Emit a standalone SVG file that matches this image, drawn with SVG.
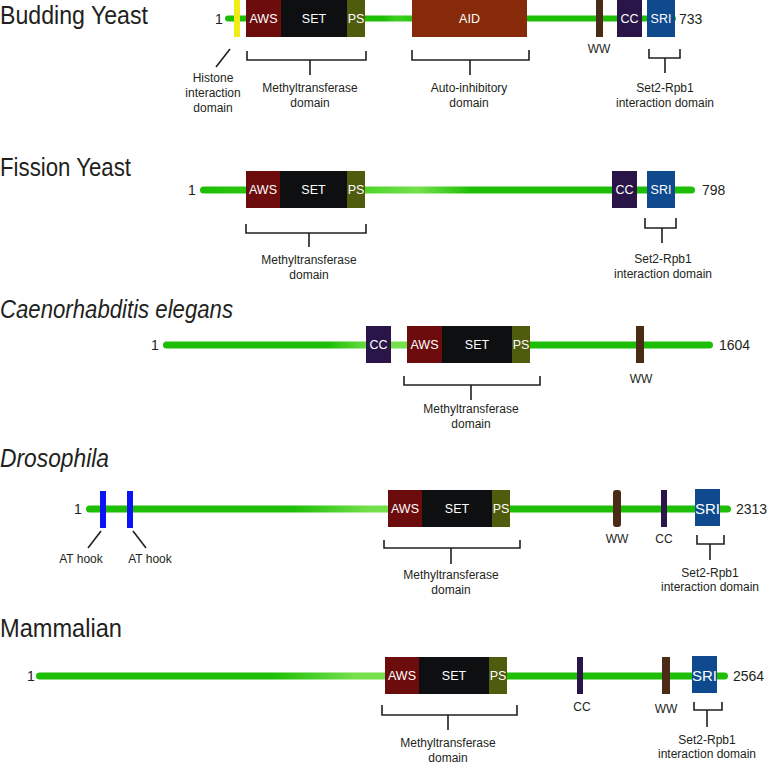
<svg xmlns="http://www.w3.org/2000/svg" width="767" height="766" viewBox="0 0 767 766">
<defs>
<style>
.title{font-family:"Liberation Sans",Arial,sans-serif;font-size:25px;fill:#231f20}
.it{font-style:italic}
.lbl{font-family:"Liberation Sans",Arial,sans-serif;font-size:12px;fill:#231f20;text-anchor:middle}
.num{font-family:"Liberation Sans",Arial,sans-serif;font-size:14px;fill:#231f20}
.bx{font-family:"Liberation Sans",Arial,sans-serif;font-size:12.5px;fill:#ffffff;text-anchor:middle}
.br{fill:none;stroke:#231f20;stroke-width:1.6}
.aws{fill:#6c0c0c}
.set{fill:#0d0f10}
.ps{fill:#4f5b0d}
.cc{fill:#2a1548}
.sri{fill:#0f4a8e}
.ww{fill:#4a2b15}
.aid{fill:#862a0a}
</style>
<linearGradient id="g1" gradientUnits="userSpaceOnUse" x1="225" y1="0" x2="676" y2="0">
<stop offset="0" stop-color="#1dbe05"/>
<stop offset="0.35" stop-color="#1dbe05"/>
<stop offset="0.38" stop-color="#3cd020"/>
<stop offset="0.45" stop-color="#1dbe05"/>
<stop offset="1" stop-color="#1dbe05"/>
</linearGradient>
<linearGradient id="g2" gradientUnits="userSpaceOnUse" x1="200" y1="0" x2="695" y2="0">
<stop offset="0" stop-color="#1dbe05"/>
<stop offset="0.33" stop-color="#4ed42c"/>
<stop offset="0.44" stop-color="#74e04c"/>
<stop offset="0.55" stop-color="#1dbe05"/>
<stop offset="1" stop-color="#1dbe05"/>
</linearGradient>
<linearGradient id="g3" gradientUnits="userSpaceOnUse" x1="163" y1="0" x2="713" y2="0">
<stop offset="0" stop-color="#1dbe05"/>
<stop offset="0.3" stop-color="#1dbe05"/>
<stop offset="0.38" stop-color="#74e04c"/>
<stop offset="0.45" stop-color="#74e04c"/>
<stop offset="0.6" stop-color="#1dbe05"/>
<stop offset="1" stop-color="#1dbe05"/>
</linearGradient>
<linearGradient id="g4" gradientUnits="userSpaceOnUse" x1="86" y1="0" x2="731" y2="0">
<stop offset="0" stop-color="#1dbe05"/>
<stop offset="0.32" stop-color="#1dbe05"/>
<stop offset="0.44" stop-color="#74e04c"/>
<stop offset="0.47" stop-color="#74e04c"/>
<stop offset="0.66" stop-color="#1dbe05"/>
<stop offset="1" stop-color="#1dbe05"/>
</linearGradient>
<linearGradient id="g5" gradientUnits="userSpaceOnUse" x1="36" y1="0" x2="728" y2="0">
<stop offset="0" stop-color="#1dbe05"/>
<stop offset="0.34" stop-color="#1dbe05"/>
<stop offset="0.46" stop-color="#74e04c"/>
<stop offset="0.52" stop-color="#74e04c"/>
<stop offset="0.66" stop-color="#1dbe05"/>
<stop offset="1" stop-color="#1dbe05"/>
</linearGradient>
</defs>
<rect width="767" height="766" fill="#ffffff"/>

<!-- Row 1: Budding Yeast -->
<g id="budding-yeast">
<text class="title" x="0" y="24" textLength="148" lengthAdjust="spacingAndGlyphs">Budding Yeast</text>
<rect x="225" y="15.5" width="451" height="6" rx="3" fill="url(#g1)"/>
<text class="num" x="215" y="24">1</text>
<text class="num" x="679" y="24">733</text>
<rect x="234" y="0" width="6" height="37" fill="#f2ec16"/>
<rect class="aws" x="246" y="0" width="35" height="37"/>
<rect class="set" x="281" y="0" width="66" height="37"/>
<rect class="ps" x="347" y="0" width="18" height="37"/>
<text class="bx" x="263.5" y="23">AWS</text>
<text class="bx" x="314" y="23">SET</text>
<text class="bx" x="356" y="23">PS</text>
<rect class="aid" x="412" y="0" width="115" height="37"/>
<text class="bx" x="469.5" y="23">AID</text>
<rect class="ww" x="596" y="0" width="7" height="37"/>
<rect class="cc" x="617" y="0" width="25" height="37"/>
<text class="bx" x="629.5" y="23">CC</text>
<rect class="sri" x="647" y="0" width="28" height="37"/>
<text class="bx" x="661" y="23">SRI</text>
<text class="lbl" x="599" y="53">WW</text>
<text class="lbl" x="213" y="82">Histone</text>
<text class="lbl" x="213" y="97">interaction</text>
<text class="lbl" x="213" y="112">domain</text>
<text class="lbl" x="310" y="92">Methyltransferase</text>
<text class="lbl" x="310" y="107">domain</text>
<text class="lbl" x="469" y="92">Auto-inhibitory</text>
<text class="lbl" x="469" y="107">domain</text>
<text class="lbl" x="665" y="92">Set2-Rpb1</text>
<text class="lbl" x="665" y="107">interaction domain</text>
</g>

<!-- Row 2: Fission Yeast -->
<g id="fission-yeast">
<text class="title" x="0" y="176" textLength="131" lengthAdjust="spacingAndGlyphs">Fission Yeast</text>
<rect x="200" y="186.5" width="495" height="7" rx="3.5" fill="url(#g2)"/>
<text class="num" x="188" y="195">1</text>
<text class="num" x="702" y="195">798</text>
<rect class="aws" x="246" y="171" width="34" height="37"/>
<rect class="set" x="280" y="171" width="67" height="37"/>
<rect class="ps" x="347" y="171" width="18" height="37"/>
<text class="bx" x="263" y="194">AWS</text>
<text class="bx" x="313.5" y="194">SET</text>
<text class="bx" x="356" y="194">PS</text>
<rect class="cc" x="612" y="171" width="25" height="37"/>
<text class="bx" x="624.5" y="194">CC</text>
<rect class="sri" x="647" y="171" width="28" height="37"/>
<text class="bx" x="661" y="194">SRI</text>
<text class="lbl" x="309" y="264">Methyltransferase</text>
<text class="lbl" x="309" y="279">domain</text>
<text class="lbl" x="663" y="263">Set2-Rpb1</text>
<text class="lbl" x="663" y="278">interaction domain</text>
</g>

<!-- Row 3: C. elegans -->
<g id="c-elegans">
<text class="title it" x="0" y="318" textLength="233" lengthAdjust="spacingAndGlyphs">Caenorhabditis elegans</text>
<rect x="163" y="341.5" width="550" height="7" rx="3.5" fill="url(#g3)"/>
<text class="num" x="151" y="350">1</text>
<text class="num" x="719" y="350">1604</text>
<rect class="cc" x="366" y="326" width="25" height="37"/>
<text class="bx" x="378.5" y="349">CC</text>
<rect class="aws" x="407" y="326" width="35" height="37"/>
<rect class="set" x="442" y="326" width="70" height="37"/>
<rect class="ps" x="512" y="326" width="18" height="37"/>
<text class="bx" x="424.5" y="349">AWS</text>
<text class="bx" x="477" y="349">SET</text>
<text class="bx" x="521" y="349">PS</text>
<rect class="ww" x="636" y="326" width="8" height="37"/>
<text class="lbl" x="641" y="383">WW</text>
<text class="lbl" x="471" y="413">Methyltransferase</text>
<text class="lbl" x="471" y="428">domain</text>
</g>

<!-- Row 4: Drosophila -->
<g id="drosophila">
<text class="title it" x="0" y="467" textLength="109" lengthAdjust="spacingAndGlyphs">Drosophila</text>
<rect x="86" y="505.5" width="645" height="7" rx="3.5" fill="url(#g4)"/>
<text class="num" x="74" y="514">1</text>
<text class="num" x="736" y="514">2313</text>
<rect x="100" y="491" width="6" height="37" fill="#0a14f5"/>
<rect x="127" y="491" width="6" height="37" fill="#0a14f5"/>
<rect class="aws" x="388" y="490" width="34" height="37"/>
<rect class="set" x="422" y="490" width="70" height="37"/>
<rect class="ps" x="492" y="490" width="18" height="37"/>
<text class="bx" x="405" y="513" font-size="13">AWS</text>
<text class="bx" x="457" y="513" font-size="13">SET</text>
<text class="bx" x="501" y="513" font-size="13">PS</text>
<rect class="ww" x="613" y="490" width="8" height="37" rx="3"/>
<rect class="cc" x="661" y="490" width="6" height="37"/>
<rect class="sri" x="695" y="489" width="25" height="37"/>
<text class="bx" x="707.5" y="514" style="font-size:15px">SRI</text>
<text class="lbl" x="81" y="563">AT hook</text>
<text class="lbl" x="150" y="563">AT hook</text>
<text class="lbl" x="617" y="543">WW</text>
<text class="lbl" x="664" y="543">CC</text>
<text class="lbl" x="451" y="579">Methyltransferase</text>
<text class="lbl" x="451" y="594">domain</text>
<text class="lbl" x="710" y="577">Set2-Rpb1</text>
<text class="lbl" x="710" y="591">interaction domain</text>
</g>

<!-- Row 5: Mammalian -->
<g id="mammalian">
<text class="title" x="0" y="637" textLength="122" lengthAdjust="spacingAndGlyphs">Mammalian</text>
<rect x="36" y="672.5" width="692" height="7" rx="3.5" fill="url(#g5)"/>
<text class="num" x="27" y="681">1</text>
<text class="num" x="733" y="681">2564</text>
<rect class="aws" x="385" y="657" width="34" height="37"/>
<rect class="set" x="419" y="657" width="70" height="37"/>
<rect class="ps" x="489" y="657" width="18" height="37"/>
<text class="bx" x="402" y="680" font-size="13">AWS</text>
<text class="bx" x="454" y="680" font-size="13">SET</text>
<text class="bx" x="498" y="680" font-size="13">PS</text>
<rect class="cc" x="577" y="657" width="6" height="37"/>
<rect class="ww" x="662" y="657" width="8" height="37"/>
<rect class="sri" x="692" y="656" width="25" height="37"/>
<text class="bx" x="704.5" y="681" style="font-size:15px">SRI</text>
<text class="lbl" x="582" y="711">CC</text>
<text class="lbl" x="666" y="713">WW</text>
<text class="lbl" x="448" y="747">Methyltransferase</text>
<text class="lbl" x="448" y="762">domain</text>
<text class="lbl" x="707" y="744">Set2-Rpb1</text>
<text class="lbl" x="707" y="758">interaction domain</text>
</g>

<!-- Connectors: brackets and pointer lines -->
<g id="connectors">
<path class="br" d="M230 49 L216 67"/>
<path class="br" d="M247 51 V60 H366 V51 M310 60 V75"/>
<path class="br" d="M412 50 V60 H529 V50 M470 60 V75"/>
<path class="br" d="M649 49 V58 H680 V49 M665 58 V73"/>
<path class="br" d="M246 224 V233 H366 V224 M309 233 V247"/>
<path class="br" d="M645 218 V228 H676 V218 M662 228 V243"/>
<path class="br" d="M404 376 V385 H540 V376 M471 385 V400"/>
<path class="br" d="M101 531 L88 548"/>
<path class="br" d="M133 531 L146 548"/>
<path class="br" d="M384 540 V548 H520 V540 M451 548 V564"/>
<path class="br" d="M697 535 V544 H724 V535 M710 544 V560"/>
<path class="br" d="M382 705 V715 H517 V705 M448 715 V730"/>
<path class="br" d="M694 702 V710 H722 V702 M707 710 V727"/>
</g>
</svg>
